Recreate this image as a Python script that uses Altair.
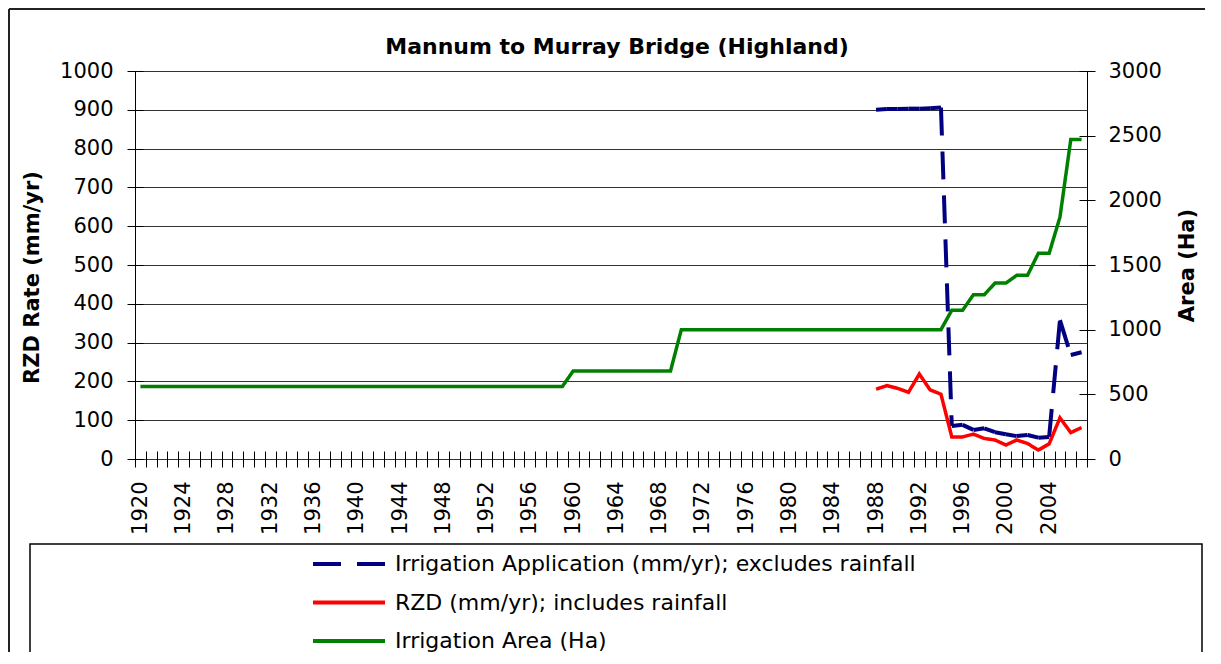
import altair as alt
import pandas as pd

TITLE = "Mannum to Murray Bridge (Highland)"
Y_LEFT_TITLE = "RZD Rate (mm/yr)"
Y_RIGHT_TITLE = "Area (Ha)"

years = list(range(1920, 2008))

# Irrigation Area (Ha), right axis, 1920-2007
area_ha = [
    560, 560, 560, 560, 560, 560, 560, 560, 560, 560,        # 1920-1929
    560, 560, 560, 560, 560, 560, 560, 560, 560, 560,        # 1930-1939
    560, 560, 560, 560, 560, 560, 560, 560, 560, 560,        # 1940-1949
    560, 560, 560, 560, 560, 560, 560, 560, 560, 560,        # 1950-1959
    680, 680, 680, 680, 680, 680, 680, 680, 680, 680,        # 1960-1969
    1000, 1000, 1000, 1000, 1000, 1000, 1000, 1000, 1000, 1000,  # 1970-1979
    1000, 1000, 1000, 1000, 1000, 1000, 1000, 1000, 1000, 1000,  # 1980-1989
    1000, 1000, 1000, 1000, 1000, 1150, 1150, 1270, 1270, 1360,  # 1990-1999
    1360, 1420, 1420, 1590, 1590, 1870, 2470, 2470,              # 2000-2007
]

app_years = list(range(1988, 2008))
irrigation_app = [900, 902, 902, 903, 903, 904, 906, 85, 88, 75,
                  79, 69, 64, 59, 62, 55, 57, 358, 268, 275]
rzd = [180, 189, 182, 172, 219, 178, 167, 57, 57, 64,
       53, 49, 36, 49, 40, 23, 39, 106, 68, 81]

SERIES = ["Irrigation Application (mm/yr); excludes rainfall",
          "RZD (mm/yr); includes rainfall",
          "Irrigation Area (Ha)"]
COLORS = ["#000080", "#FF0000", "#008000"]
DASHES = [[28, 16], [1, 0], [1, 0]]
LEFT_TICKS = list(range(0, 1001, 100))
RIGHT_TICKS = list(range(0, 3001, 500))
LABEL_EVERY = 4

FONT = "DejaVu Sans"

area_df = pd.DataFrame({"year": years, "value": area_ha, "series": SERIES[2]})
rzd_df = pd.DataFrame({"year": app_years, "value": rzd, "series": SERIES[1]})
seg_rows = []
for i in range(len(app_years) - 1):
    for j in (i, i + 1):
        seg_rows.append({"year": app_years[j], "value": irrigation_app[j],
                         "series": SERIES[0], "seg": i})
app_df = pd.DataFrame(seg_rows)

x_enc = alt.X(
    "year:O", title=None,
    scale=alt.Scale(type="band", domain=years, paddingInner=0, paddingOuter=0),
    axis=alt.Axis(orient="bottom", labelAngle=270,
                  labelExpr=f"datum.value % {LABEL_EVERY} === 0 ? datum.label : ''",
                  labelOverlap=False, tickBand="extent", offset=-8, tickSize=16,
                  tickColor="black", labelPadding=14, domain=False, grid=False,
                  labelFont=FONT, labelFontSize=21, labelColor="black"),
)

y_left = alt.Y(
    "value:Q", scale=alt.Scale(domain=[0, 1000]),
    axis=alt.Axis(orient="left", values=LEFT_TICKS, format="d", title=Y_LEFT_TITLE,
                  grid=True, gridColor="#333333", gridWidth=1, domain=False,
                  tickSize=16, offset=-8, tickColor="black", labelPadding=14,
                  titleAngle=270, titleY=206, titlePadding=17, labelFont=FONT,
                  labelFontSize=21, labelColor="black", titleFont=FONT,
                  titleFontSize=21, titleFontWeight="bold", titleColor="black"),
)

y_right = alt.Y(
    "value:Q", scale=alt.Scale(domain=[0, 3000]),
    axis=alt.Axis(orient="right", values=RIGHT_TICKS, format="d", title=Y_RIGHT_TITLE,
                  grid=False, domain=False, tickSize=16, offset=-8, tickColor="black",
                  labelPadding=13, titleAngle=270, titlePadding=36, labelFont=FONT,
                  labelFontSize=21, labelColor="black", titleFont=FONT,
                  titleFontSize=21, titleFontWeight="bold", titleColor="black"),
)

legend = alt.Legend(title=None, orient="none", legendX=200, legendY=479, padding=0,
                    symbolType="M-3,0H3", symbolSize=576, symbolStrokeWidth=4,
                    labelFont=FONT, labelFontSize=22, labelColor="black",
                    labelLimit=1000, rowPadding=13.5, labelOffset=32, symbolOffset=0)

color_enc = alt.Color("series:N", scale=alt.Scale(domain=SERIES, range=COLORS), legend=legend)
dash_enc = alt.StrokeDash("series:N", scale=alt.Scale(domain=SERIES, range=DASHES), legend=legend)

blue = alt.Chart(app_df).mark_line(strokeWidth=4).encode(
    x=x_enc, y=y_left, color=color_enc, strokeDash=dash_enc, detail="seg:N")
red = alt.Chart(rzd_df).mark_line(strokeWidth=3.5).encode(
    x=x_enc, y=y_left, color=color_enc, strokeDash=dash_enc)
green = alt.Chart(area_df).mark_line(strokeWidth=3.5).encode(
    x=x_enc, y=y_right, color=color_enc, strokeDash=dash_enc)

# decorative outer chart border (left and top edges; right/bottom lie off-page)
deco = pd.DataFrame({"k": [0]})
frame_left = alt.Chart(deco).mark_rule(stroke="#222222", strokeWidth=2).encode(
    x=alt.value(-126), y=alt.value(-62), y2=alt.value(800))
frame_top = alt.Chart(deco).mark_rule(stroke="#222222", strokeWidth=2).encode(
    x=alt.value(-126), x2=alt.value(1300), y=alt.value(-62))
legend_box = alt.Chart(deco).mark_rect(filled=False, stroke="black", strokeWidth=1.5).encode(
    x=alt.value(-105), x2=alt.value(1067), y=alt.value(473), y2=alt.value(800))

chart = alt.layer(
    frame_left, frame_top, legend_box, alt.layer(blue, red), green
).resolve_scale(y="independent").properties(
    width=952, height=388,
    padding={"left": 127, "top": 63, "right": 118, "bottom": 193},
    autosize=alt.AutoSizeParams(type="none"),
    background="white",
    title=alt.TitleParams(TITLE, font=FONT, fontSize=22, fontWeight="bold", color="black",
                          anchor="middle", frame="group", dx=6, offset=0,
                          baseline="alphabetic", dy=68),
).configure_view(stroke="black", strokeWidth=1)

chart.save("out.html", embed_options={"renderer": "svg", "actions": False})
